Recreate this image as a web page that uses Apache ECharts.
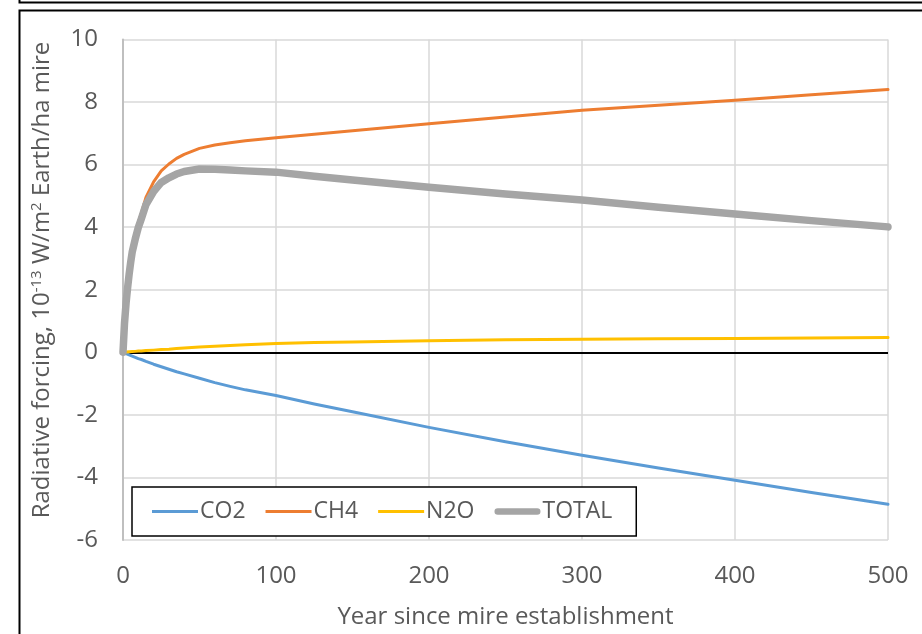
<!DOCTYPE html>
<html>
<head>
<meta charset="utf-8">
<script src="https://cdn.jsdelivr.net/npm/echarts@6/dist/echarts.min.js"></script>
<style>
  html, body { margin: 0; padding: 0; background: #fff; }
  #chart { width: 922px; height: 634px; }
</style>
</head>
<body>
<div id="chart"></div>
<script>
// Years since mire establishment
const years = [0, 1, 2, 3, 4, 5, 6, 8, 10, 12, 15, 20, 25, 30, 35, 40, 50, 60, 70, 80, 100, 125, 150, 200, 250, 300, 350, 400, 450, 500];

// Radiative forcing, 1e-13 W/m2 Earth per ha mire
const co2 = [0, -0.02, -0.04, -0.06, -0.08, -0.1, -0.12, -0.16, -0.2, -0.23, -0.29, -0.38, -0.46, -0.54, -0.62, -0.69, -0.83, -0.97, -1.09, -1.2, -1.38, -1.65, -1.9, -2.4, -2.86, -3.29, -3.7, -4.09, -4.48, -4.86];
const ch4 = [0, 0.95, 1.6, 2.1, 2.55, 2.95, 3.3, 3.75, 4.15, 4.45, 4.95, 5.45, 5.8, 6.02, 6.2, 6.33, 6.52, 6.63, 6.7, 6.76, 6.86, 6.97, 7.08, 7.31, 7.52, 7.74, 7.9, 8.06, 8.23, 8.4];
const n2o = [0, 0.005, 0.01, 0.015, 0.02, 0.02, 0.025, 0.03, 0.04, 0.045, 0.055, 0.07, 0.09, 0.1, 0.12, 0.14, 0.17, 0.19, 0.22, 0.24, 0.28, 0.31, 0.33, 0.37, 0.4, 0.42, 0.435, 0.445, 0.46, 0.47];
const total = [0, 0.94, 1.57, 2.06, 2.49, 2.87, 3.2, 3.62, 3.99, 4.27, 4.72, 5.14, 5.43, 5.58, 5.7, 5.78, 5.86, 5.85, 5.83, 5.8, 5.76, 5.63, 5.51, 5.28, 5.06, 4.87, 4.64, 4.42, 4.21, 4.01];

const seriesNames = ['CO2', 'CH4', 'N2O', 'TOTAL'];
const seriesColors = ['#5B9BD5', '#ED7D31', '#FFC000', '#A5A5A5'];
const seriesWidths = [3, 3, 3, 7.5];

// legend keys: thin bar for the gases, a thick rounded bar for the total
const thinKey = 'path://M0,0L46,0L46,3L0,3Z';
const thickKey = 'path://M3.5,0L45.5,0A3.5,3.5,0,0,1,45.5,7L3.5,7A3.5,3.5,0,0,1,3.5,0Z';

const FONT = 'Open Sans';
const TEXT = '#595959';
const pair = (vals) => years.map((y, i) => [y, vals[i]]);

const chart = echarts.init(document.getElementById('chart'), null, { renderer: 'canvas' });

const series = [co2, ch4, n2o, total].map((vals, i) => ({
  name: seriesNames[i],
  type: 'line',
  data: pair(vals),
  smooth: false,
  symbol: 'none',
  z: 3 + i,
  lineStyle: { color: seriesColors[i], width: seriesWidths[i], cap: 'round', join: 'round' },
  itemStyle: { color: seriesColors[i] }
}));

// black reference line at zero forcing
series[0].markLine = {
  silent: true,
  symbol: 'none',
  label: { show: false },
  lineStyle: { color: '#000', width: 2, type: 'solid' },
  data: [{ yAxis: 0 }],
  z: 2
};

chart.setOption({
  animation: false,
  backgroundColor: '#fff',
  grid: { left: 123, right: 34, top: 39.5, bottom: 90.5, containLabel: false },
  xAxis: {
    type: 'value',
    min: 0, max: 500, interval: 100,
    name: 'Year since mire establishment',
    nameLocation: 'middle',
    nameGap: 65,
    nameTextStyle: { fontFamily: FONT, fontSize: 24, color: TEXT },
    axisLine: { show: false },
    axisTick: { show: false },
    axisLabel: { margin: 24, fontFamily: FONT, fontSize: 24, color: TEXT },
    splitLine: { show: true, lineStyle: { color: '#d9d9d9', width: 1.5 } }
  },
  yAxis: {
    type: 'value',
    min: -6, max: 10, interval: 2,
    axisLine: { show: true, onZero: false, lineStyle: { color: '#bfbfbf', width: 2 } },
    axisTick: { show: false },
    axisLabel: { margin: 25, fontFamily: FONT, fontSize: 24, color: TEXT },
    splitLine: { show: true, lineStyle: { color: '#d9d9d9', width: 1.5 } }
  },
  legend: {
    left: 132, top: 487,
    orient: 'horizontal',
    data: seriesNames.map((n, i) => ({ name: n, icon: i === 3 ? thickKey : thinKey })),
    itemWidth: 46,
    itemHeight: 14,
    itemGap: 20,
    padding: [13, 24, 13, 20],
    backgroundColor: '#fff',
    borderColor: '#000',
    borderWidth: 1.5,
    borderRadius: 0,
    itemStyle: { borderWidth: 0 },
    textStyle: { fontFamily: FONT, fontSize: 23, color: TEXT, padding: [0, 0, 0, -3] }
  },
  graphic: [
    {
      type: 'rect', silent: true, z: 100,
      shape: { x: 19.5, y: -50, width: 1000, height: 52.5 },
      style: { fill: 'none', stroke: '#000', lineWidth: 2 }
    },
    {
      type: 'rect', silent: true, z: 100,
      shape: { x: 19.5, y: 10.5, width: 1000, height: 800 },
      style: { fill: 'none', stroke: '#000', lineWidth: 2 }
    },
    {
      type: 'text', silent: true, z: 100,
      x: 42, y: 280, rotation: Math.PI / 2,
      style: {
        text: 'Radiative forcing, 10{sup|-13} W/m{sup|2} Earth/ha mire',
        fontFamily: FONT, fontSize: 24, fill: TEXT,
        align: 'center', verticalAlign: 'middle',
        rich: {
          sup: { fontFamily: FONT, fontSize: 15, fill: TEXT, verticalAlign: 'top', padding: [0, 0, 10, 0] }
        }
      }
    }
  ],
  series: series
});
</script>
</body>
</html>
